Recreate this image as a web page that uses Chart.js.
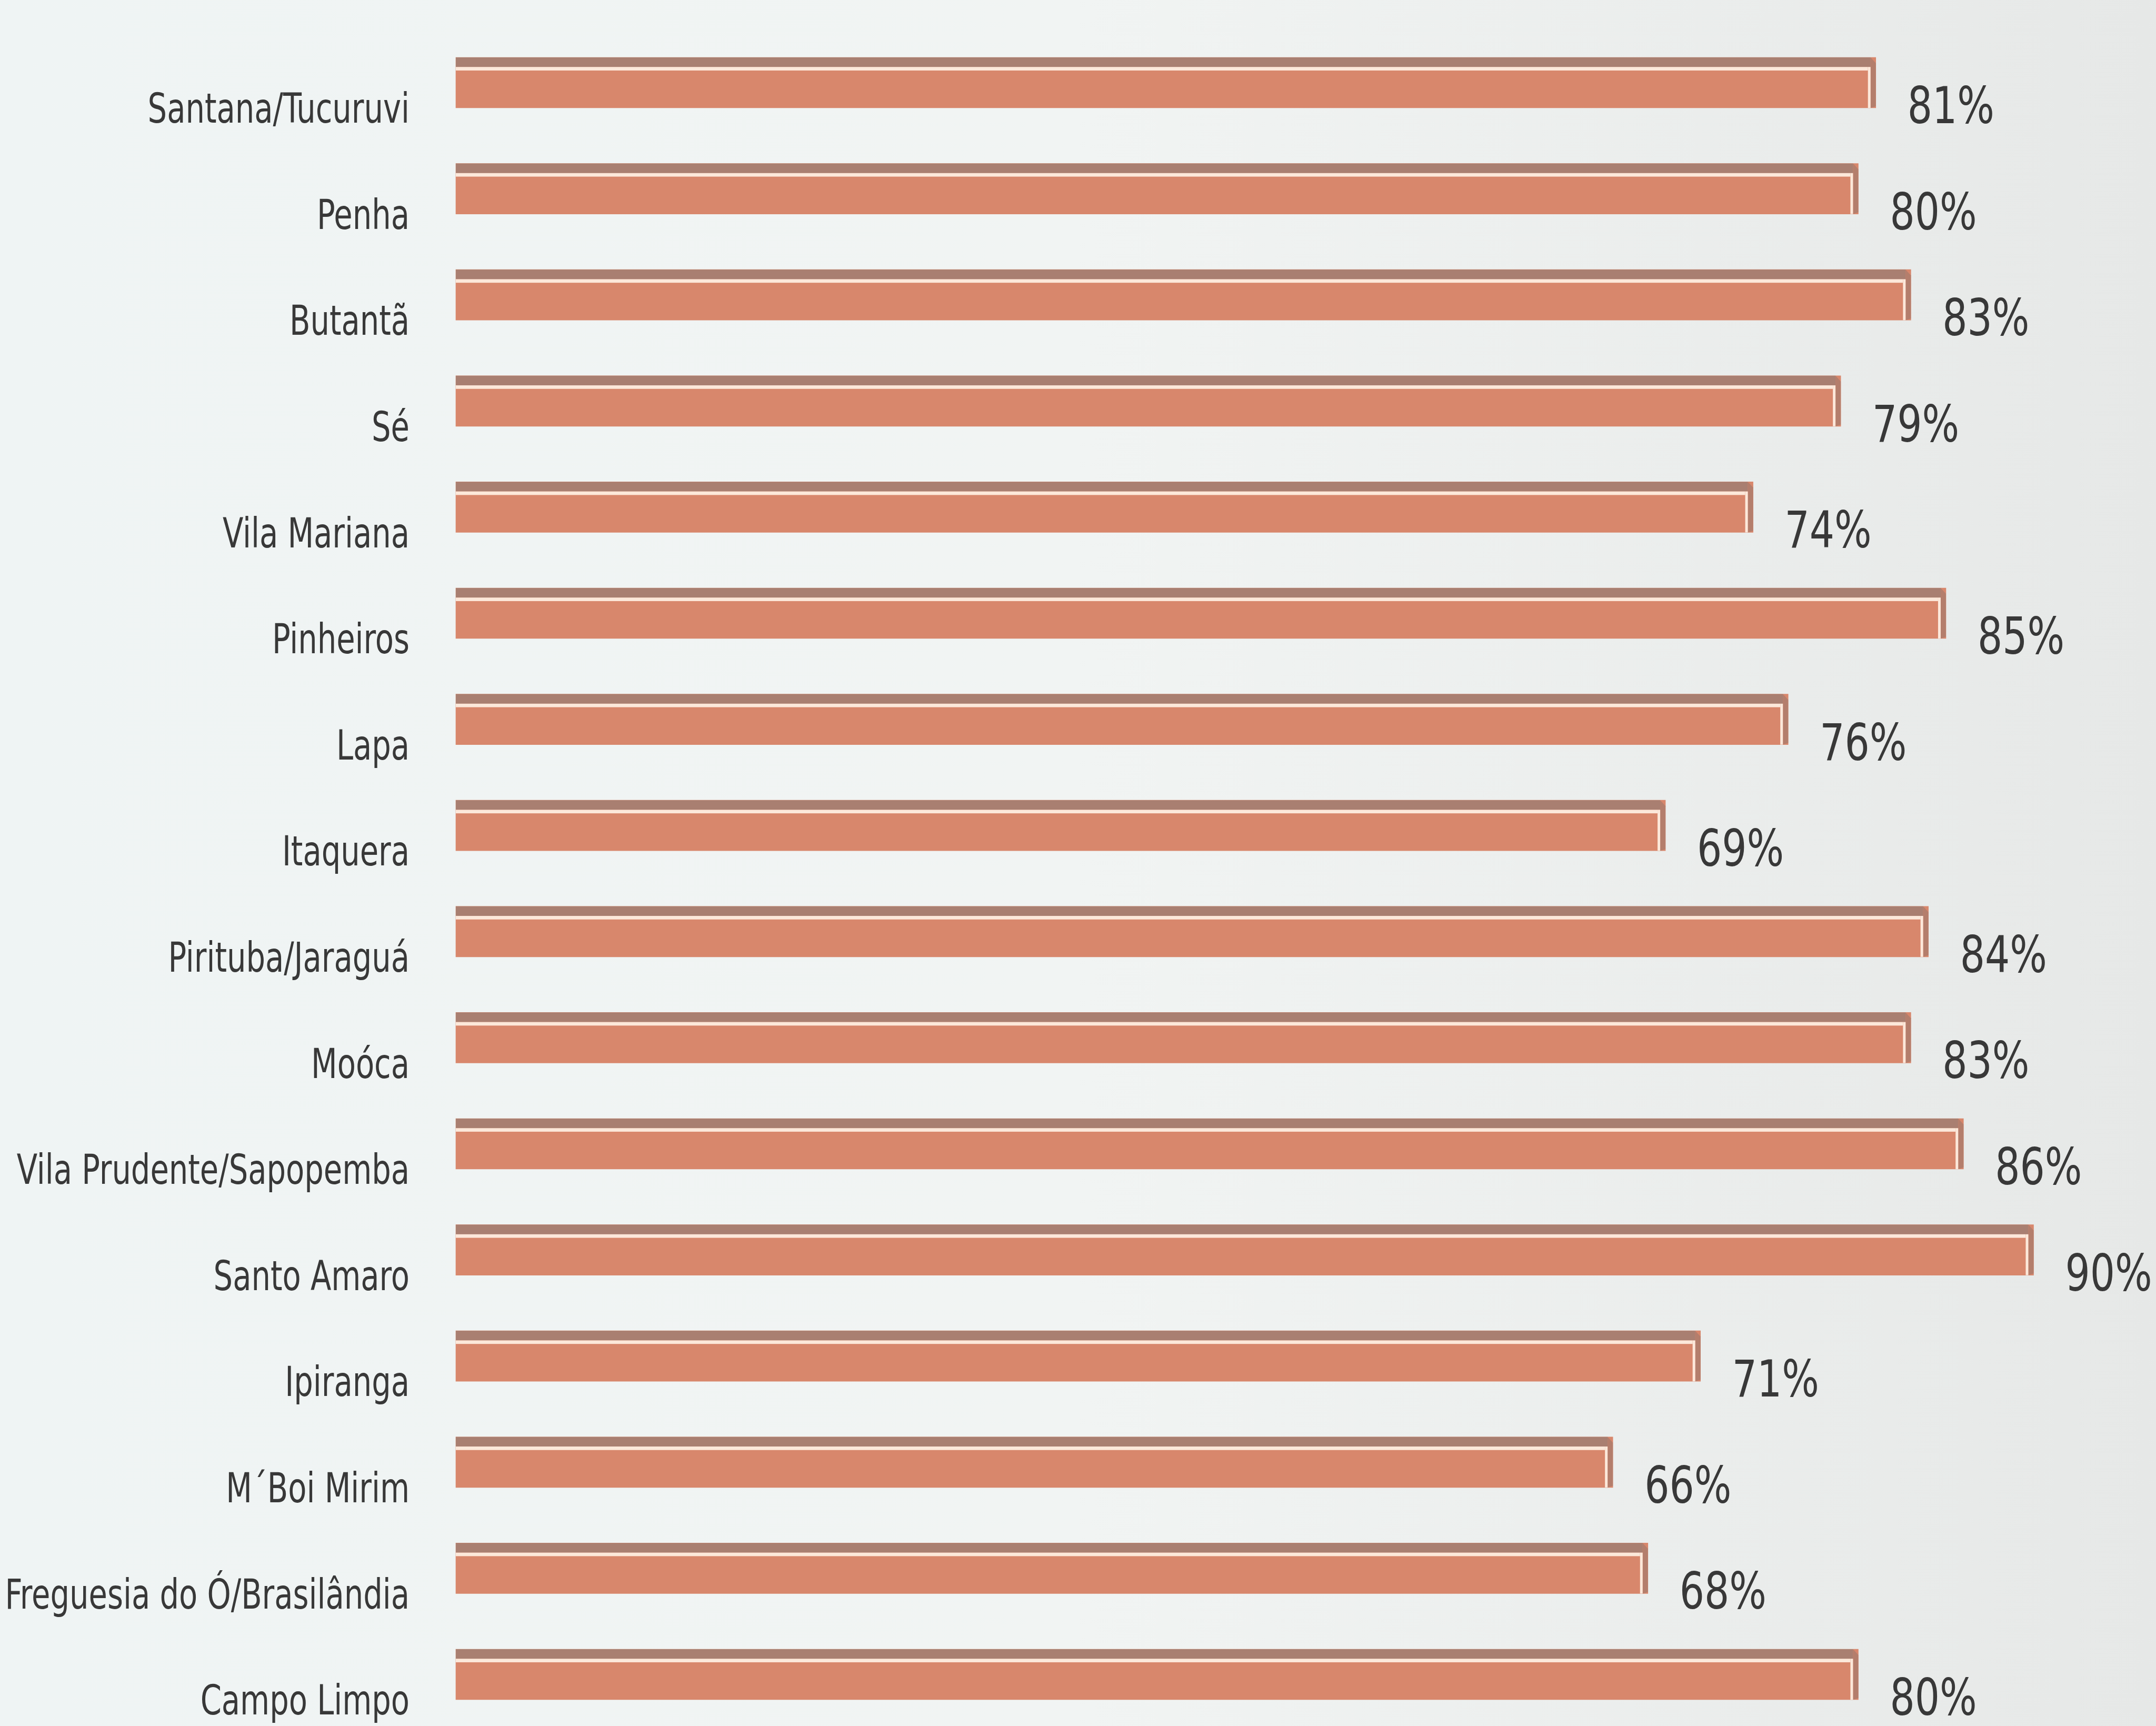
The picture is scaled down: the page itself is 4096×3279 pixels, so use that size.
<!DOCTYPE html>
<html lang="pt-BR">
<head>
<meta charset="utf-8">
<title>Subprefeituras</title>
<script src="https://cdn.jsdelivr.net/npm/chart.js@4.4.1/dist/chart.umd.min.js"></script>
<style>
  html, body {
    margin: 0;
    padding: 0;
    background: linear-gradient(90deg, #eff4f4 0%, #f1f4f3 50%, #e6e8e7 100%);
  }
  #wrap {
    position: relative;
    width: 4096px;
    height: 3279px;
  }
</style>
</head>
<body>
<div id="wrap"><canvas id="shareChart"></canvas></div>
<script>
// Subprefeituras and their percentages
const districts = [
  'Santana/Tucuruvi',
  'Penha',
  'Butantã',
  'Sé',
  'Vila Mariana',
  'Pinheiros',
  'Lapa',
  'Itaquera',
  'Pirituba/Jaraguá',
  'Moóca',
  'Vila Prudente/Sapopemba',
  'Santo Amaro',
  'Ipiranga',
  'M´Boi Mirim',
  'Freguesia do Ó/Brasilândia',
  'Campo Limpo',
];
const shares = [81, 80, 83, 79, 74, 85, 76, 69, 84, 83, 86, 90, 71, 66, 68, 80];

const FONT_FAMILY = '"DejaVu Sans Condensed", "DejaVu Sans", sans-serif';
const TEXT_COLOR = '#383838';
// horizontal squeeze for the narrow lettering
const LABEL_SQUEEZE = 0.82;
const VALUE_SQUEEZE = 0.86;

// Colours of the "slab" bars
const FACE = '#d8876c';
const TOP_FACE = '#a97f71';
const HIGHLIGHT = '#fce8da';
const SIDE = '#b47e6c';

// Draws the bevel on top of every plain bar: darker top face, light edge, side cap
const slabPlugin = {
  id: 'slab',
  afterDatasetsDraw(chart) {
    const ctx = chart.ctx;
    const meta = chart.getDatasetMeta(0);
    ctx.save();
    meta.data.forEach((bar) => {
      const { x, y, base, height } = bar.getProps(['x', 'y', 'base', 'height'], true);
      const top = y - height / 2;
      const topFace = height * 0.19;
      const edge = height * 0.07;
      const side = 10;

      ctx.fillStyle = TOP_FACE;
      ctx.fillRect(base, top, x - base - side, topFace);
      ctx.fillStyle = HIGHLIGHT;
      ctx.fillRect(base, top + topFace, x - base - side - 5, edge);
      // right end of the slab
      ctx.fillStyle = SIDE;
      ctx.beginPath();
      ctx.moveTo(x - side, top);
      ctx.lineTo(x, top + topFace * 0.6);
      ctx.lineTo(x, y + height / 2 - 3);
      ctx.lineTo(x - side, y + height / 2);
      ctx.closePath();
      ctx.fill();
      ctx.fillStyle = HIGHLIGHT;
      ctx.fillRect(x - side - 5, top + topFace, 5, height - topFace);
    });
    ctx.restore();
  },
};

// District names, right-aligned against the category axis
const districtLabels = {
  id: 'districtLabels',
  afterDraw(chart) {
    const ctx = chart.ctx;
    const yScale = chart.scales.y;
    ctx.save();
    ctx.font = '78px ' + FONT_FAMILY;
    ctx.fillStyle = TEXT_COLOR;
    ctx.textAlign = 'right';
    ctx.textBaseline = 'middle';
    yScale.ticks.forEach((tick, i) => {
      const py = yScale.getPixelForTick(i) + 56;
      ctx.save();
      ctx.translate(yScale.right - 88, py);
      ctx.scale(LABEL_SQUEEZE, 1);
      ctx.fillText(yScale.getLabelForValue(tick.value), 0, 0);
      ctx.restore();
    });
    ctx.restore();
  },
};

// Percentage text to the right of each bar end
const valueLabels = {
  id: 'valueLabels',
  afterDatasetsDraw(chart) {
    const ctx = chart.ctx;
    const meta = chart.getDatasetMeta(0);
    ctx.save();
    ctx.font = '96px ' + FONT_FAMILY;
    ctx.fillStyle = TEXT_COLOR;
    ctx.textAlign = 'left';
    ctx.textBaseline = 'middle';
    meta.data.forEach((bar, i) => {
      ctx.save();
      ctx.translate(bar.x + 60, bar.y + 52);
      ctx.scale(VALUE_SQUEEZE, 1);
      ctx.fillText(shares[i] + '%', 0, 0);
      ctx.restore();
    });
    ctx.restore();
  },
};

const ctx = document.getElementById('shareChart').getContext('2d');

new Chart(ctx, {
  type: 'bar',
  data: {
    labels: districts,
    datasets: [
      {
        data: shares,
        backgroundColor: FACE,
        borderWidth: 0,
        barThickness: 96,
        clip: false,
      },
    ],
  },
  options: {
    indexAxis: 'y',
    responsive: true,
    maintainAspectRatio: false,
    animation: false,
    layout: {
      padding: { top: 157, bottom: 98, left: 0, right: 66 },
    },
    plugins: {
      legend: { display: false },
      tooltip: { enabled: false },
    },
    scales: {
      x: {
        display: false,
        min: 0,
        max: 95,
      },
      y: {
        offset: false,
        grid: { display: false, drawTicks: false },
        border: { display: false },
        ticks: { display: false },
        afterFit(scale) {
          scale.width = 866;
        },
      },
    },
  },
  plugins: [slabPlugin, districtLabels, valueLabels],
});
</script>
</body>
</html>
